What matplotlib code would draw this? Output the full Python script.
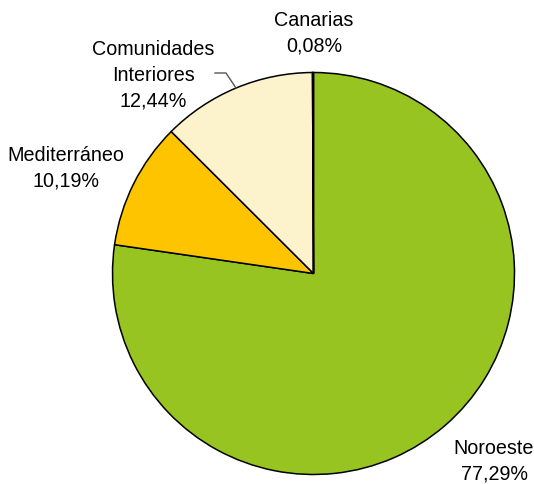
import matplotlib
matplotlib.use("Agg")
import matplotlib.pyplot as plt

labels = ["Noroeste", "Mediterráneo", "Comunidades\nInteriores", "Canarias"]
values = [77.29, 10.19, 12.44, 0.08]
pct_labels = ["77,29%", "10,19%", "12,44%", "0,08%"]
colors = ["#98C421", "#FFC400", "#FCF2CC", "#98C421"]

W, H = 534, 484
fig = plt.figure(figsize=(W / 100, H / 100), dpi=100)
ax = fig.add_axes([0, 0, 1, 1])

cx, cy, r = 313.5, H - 273.5, 201
ax.pie(values, colors=colors, startangle=90, counterclock=False,
       center=(cx, cy), radius=r, frame=True,
       wedgeprops=dict(edgecolor="black", linewidth=1.1))
ax.set_xlim(0, W)
ax.set_ylim(0, H)
ax.set_aspect("equal")
ax.axis("off")

font = dict(family=["Liberation Sans", "DejaVu Sans"], fontsize=14.2, color="#000000",
            ha="center", va="center", linespacing=1.45)
positions = [(494, H - 461), (66, H - 168), (153, H - 75.5), (314, H - 33)]
for lab, pct, (x, y) in zip(labels, pct_labels, positions):
    ax.text(x, y, lab + "\n" + pct, **font)

# leader line for Comunidades Interiores
ax.plot([215, 226, 236], [H - 73, H - 73, H - 88], color="#555555", lw=1)

fig.savefig("out.png", dpi=100)
